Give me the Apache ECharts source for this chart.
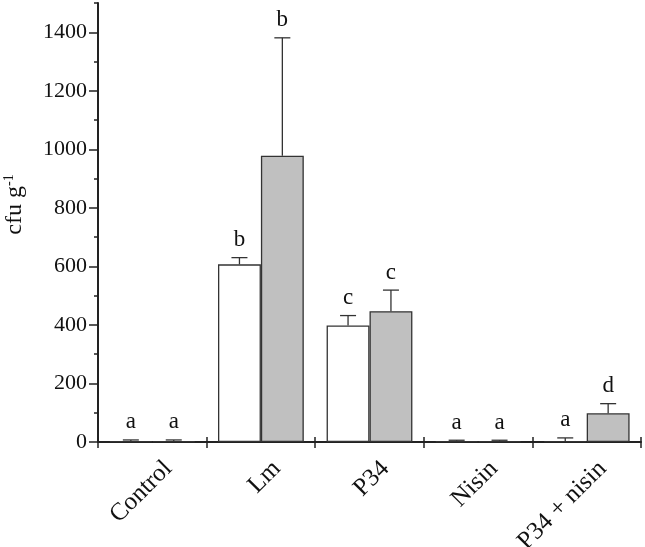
<!DOCTYPE html>
<html>
<head>
<meta charset="utf-8">
<script src="https://cdn.jsdelivr.net/npm/echarts@6/dist/echarts.min.js"></script>
<style>
html,body{margin:0;padding:0;background:#fff}
#chart{width:645px;height:547px}
</style>
</head>
<body>
<div id="chart"></div>
<script>
// data
var categories = ['Control', 'Lm', 'P34', 'Nisin', 'P34 + nisin'];
var whiteVals = [3, 607, 398, 3, 3];
var whiteErr = [4, 23, 34, 3, 11];
var whiteLetters = ['a', 'b', 'c', 'a', 'a'];
var grayVals = [3, 978, 447, 3, 98];
var grayErr = [4, 403, 72, 3, 33];
var grayLetters = ['a', 'b', 'c', 'a', 'd'];
var yTickLabels = [0, 200, 400, 600, 800, 1000, 1200, 1400];

var serif = '"Liberation Serif", "Times New Roman", serif';
var ink = '#222';

// error bar + letter drawn over each bar
function errRender(side, letters) {
  return function (params, api) {
    var i = api.value(0);
    var band = api.size([1, 0])[0];
    var off = side * band * 0.79 / 4;
    var base = api.coord([i, api.value(1)]);
    var top = api.coord([i, api.value(1) + api.value(2)]);
    var x = base[0] + off;
    var st = { stroke: '#333', lineWidth: 1.3 };
    return {
      type: 'group',
      children: [
        { type: 'line', shape: { x1: x, y1: base[1], x2: x, y2: top[1] }, style: st },
        { type: 'line', shape: { x1: x - 8, y1: top[1], x2: x + 8, y2: top[1] }, style: st },
        { type: 'text', x: x, y: top[1] - 6,
          style: { text: letters[params.dataIndex], fontSize: 23, fontFamily: serif,
                   fill: '#111', align: 'center', verticalAlign: 'bottom' } }
      ]
    };
  };
}

function errData(vals, errs) {
  var d = [];
  for (var i = 0; i < vals.length; i++) d.push([i, vals[i], errs[i]]);
  return d;
}

var myChart = echarts.init(document.getElementById('chart'));
var option = {
  animation: false,
  backgroundColor: '#fff',
  grid: { left: 98, right: 4, top: 3, bottom: 105, outerBoundsMode: 'none', containLabel: false },
  xAxis: [
    {
      type: 'category',
      data: categories,
      axisLine: { lineStyle: { color: ink, width: 2 } },
      axisTick: { show: true, alignWithLabel: false, length: 6, lineStyle: { color: ink, width: 1.5 } },
      axisLabel: {
        rotate: 45, fontSize: 25, fontFamily: serif, color: '#111',
        margin: 7, verticalAlign: 'top', padding: [10, 0, 0, 0]
      }
    },
    {
      type: 'category',
      data: categories,
      position: 'bottom',
      axisLine: { show: false },
      axisTick: { show: true, inside: true, length: 5, lineStyle: { color: ink, width: 1.5 } },
      axisLabel: { show: false }
    }
  ],
  yAxis: [
    {
      type: 'value',
      min: 0, max: 1500, interval: 100,
      splitLine: { show: false },
      axisLine: { show: true, lineStyle: { color: ink, width: 2 } },
      axisTick: { show: true, length: 4, lineStyle: { color: ink, width: 1.5 } },
      axisLabel: { show: false },
      name: '{a|cfu g}{s|-1}',
      nameLocation: 'middle',
      nameGap: 70,
      nameRotate: 90,
      nameTextStyle: {
        padding: [0, 0, 0, 36],
        rich: {
          a: { fontSize: 24, fontFamily: serif, color: '#111', lineHeight: 26 },
          s: { fontSize: 14, fontFamily: serif, color: '#111', verticalAlign: 'top', lineHeight: 26, padding: [0, 0, 10, 0] }
        }
      }
    },
    {
      type: 'value',
      min: 0, max: 1500, interval: 100,
      position: 'left',
      splitLine: { show: false },
      axisLine: { show: false },
      axisTick: { show: true, length: 9, customValues: yTickLabels, lineStyle: { color: ink, width: 1.5 } },
      axisLabel: {
        customValues: yTickLabels, fontSize: 22, fontFamily: serif, color: '#111', margin: 11,
        formatter: function (v) { return String(v); }
      }
    }
  ],
  series: [
    {
      type: 'bar',
      data: whiteVals,
      barGap: '0%',
      barCategoryGap: '21%',
      itemStyle: { color: '#fff', borderColor: '#333', borderWidth: 1.3 }
    },
    {
      type: 'bar',
      data: grayVals,
      barGap: '0%',
      barCategoryGap: '21%',
      itemStyle: { color: '#c0c0c0', borderColor: '#333', borderWidth: 1.3 }
    },
    {
      type: 'custom',
      renderItem: errRender(-1, whiteLetters),
      data: errData(whiteVals, whiteErr),
      encode: { x: 0, y: 1 },
      z: 5
    },
    {
      type: 'custom',
      renderItem: errRender(1, grayLetters),
      data: errData(grayVals, grayErr),
      encode: { x: 0, y: 1 },
      z: 5
    }
  ]
};
myChart.setOption(option);
</script>
</body>
</html>
